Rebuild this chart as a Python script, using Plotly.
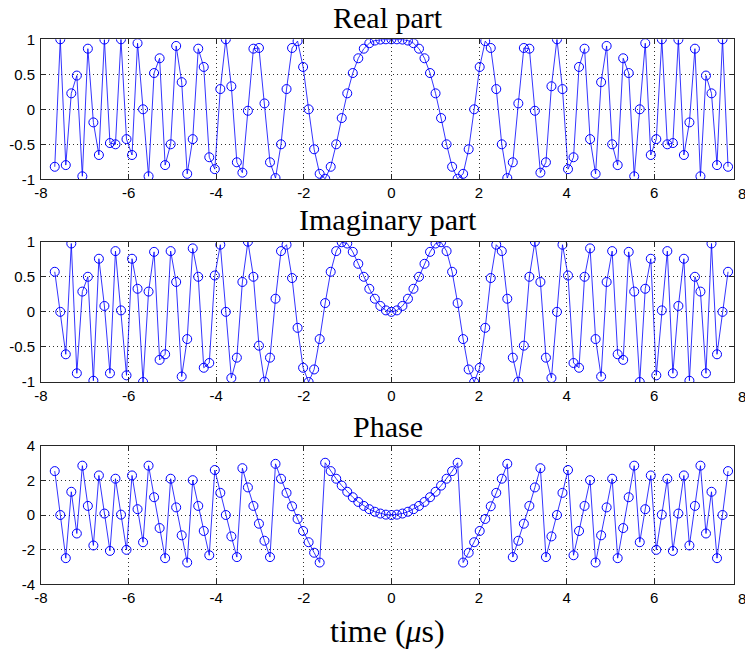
import plotly.graph_objects as go

# Sample times (microseconds)
time_us = [
    -7.686, -7.560, -7.434, -7.308, -7.182, -7.056, -6.930, -6.804, -6.678, -6.552,
    -6.426, -6.300, -6.174, -6.048, -5.922, -5.796, -5.670, -5.544, -5.418, -5.292,
    -5.166, -5.040, -4.914, -4.788, -4.662, -4.536, -4.410, -4.284, -4.158, -4.032,
    -3.906, -3.780, -3.654, -3.528, -3.402, -3.276, -3.150, -3.024, -2.898, -2.772,
    -2.646, -2.520, -2.394, -2.268, -2.142, -2.016, -1.890, -1.764, -1.638, -1.512,
    -1.386, -1.260, -1.134, -1.008, -0.882, -0.756, -0.630, -0.504, -0.378, -0.252,
    -0.126, 0.000, 0.126,
    0.252, 0.378, 0.504, 0.630, 0.756, 0.882, 1.008, 1.134, 1.260, 1.386,
    1.512, 1.638, 1.764, 1.890, 2.016, 2.142, 2.268, 2.394, 2.520, 2.646,
    2.772, 2.898, 3.024, 3.150, 3.276, 3.402, 3.528, 3.654, 3.780, 3.906,
    4.032, 4.158, 4.284, 4.410, 4.536, 4.662, 4.788, 4.914, 5.040, 5.166,
    5.292, 5.418, 5.544, 5.670, 5.796, 5.922, 6.048, 6.174, 6.300, 6.426,
    6.552, 6.678, 6.804, 6.930, 7.056, 7.182, 7.308, 7.434, 7.560, 7.686,
]

real_part = [
    -0.821, 1.000, -0.797, 0.228, 0.482, -0.957, 0.866, -0.187, -0.653, 0.996,
    -0.482, -0.500, 1.000, -0.426, -0.653, 0.944, 0.000, -0.957, 0.518, 0.729,
    -0.797, -0.500, 0.905, 0.388, -0.922, -0.426, 0.866, 0.605, -0.685, -0.855,
    0.289, 1.000, 0.329, -0.757, -0.905, -0.021, 0.866, 0.876, 0.084, -0.757,
    -0.982, -0.500, 0.289, 0.876, 0.974, 0.605, 0.000, -0.571, -0.922, -0.992,
    -0.821, -0.500, -0.125, 0.228, 0.518, 0.729, 0.866, 0.944, 0.982, 0.996,
    1.000, 1.000, 1.000,
    0.996, 0.982, 0.944, 0.866, 0.729, 0.518, 0.228, -0.125, -0.500, -0.821,
    -0.992, -0.922, -0.571, 0.000, 0.605, 0.974, 0.876, 0.289, -0.500, -0.982,
    -0.757, 0.084, 0.876, 0.866, -0.021, -0.905, -0.757, 0.329, 1.000, 0.289,
    -0.855, -0.685, 0.605, 0.866, -0.426, -0.922, 0.388, 0.905, -0.500, -0.797,
    0.729, 0.518, -0.957, 0.000, 0.944, -0.653, -0.426, 1.000, -0.500, -0.482,
    0.996, -0.653, -0.187, 0.866, -0.957, 0.482, 0.228, -0.797, 1.000, -0.821,
]

imag_part = [
    0.571, 0.000, -0.605, 0.974, -0.876, 0.289, 0.500, -0.982, 0.757, 0.084,
    -0.876, 0.866, 0.021, -0.905, 0.757, 0.329, -1.000, 0.289, 0.855, -0.685,
    -0.605, 0.866, 0.426, -0.922, -0.388, 0.905, 0.500, -0.797, -0.729, 0.518,
    0.957, 0.000, -0.944, -0.653, 0.426, 1.000, 0.500, -0.482, -0.996, -0.653,
    0.187, 0.866, 0.957, 0.482, -0.228, -0.797, -1.000, -0.821, -0.388, 0.125,
    0.571, 0.866, 0.992, 0.974, 0.855, 0.685, 0.500, 0.329, 0.187, 0.084,
    0.021, 0.000, 0.021,
    0.084, 0.187, 0.329, 0.500, 0.685, 0.855, 0.974, 0.992, 0.866, 0.571,
    0.125, -0.388, -0.821, -1.000, -0.797, -0.228, 0.482, 0.957, 0.866, 0.187,
    -0.653, -0.996, -0.482, 0.500, 1.000, 0.426, -0.653, -0.944, 0.000, 0.957,
    0.518, -0.729, -0.797, 0.500, 0.905, -0.388, -0.922, 0.426, 0.866, -0.605,
    -0.685, 0.855, 0.289, -1.000, 0.329, 0.757, -0.905, 0.021, 0.866, -0.876,
    0.084, 0.757, -0.982, 0.500, 0.289, -0.876, 0.974, -0.605, 0.000, 0.571,
]

phase = [
    2.534, 0.000, -2.492, 1.340, -1.068, 2.848, 0.524, -1.759, 2.283, 0.084,
    -2.073, 2.094, 0.021, -2.011, 2.283, 0.335, -1.571, 2.848, 1.026, -0.754,
    -2.492, 2.094, 0.440, -1.173, -2.744, 2.011, 0.524, -0.922, -2.325, 2.597,
    1.278, 0.000, -1.236, -2.429, 2.702, 1.592, 0.524, -0.503, -1.487, -2.429,
    2.953, 2.094, 1.278, 0.503, -0.230, -0.922, -1.571, -2.178, -2.744, 3.016,
    2.534, 2.094, 1.696, 1.340, 1.026, 0.754, 0.524, 0.335, 0.188, 0.084,
    0.021, 0.000, 0.021,
    0.084, 0.188, 0.335, 0.524, 0.754, 1.026, 1.340, 1.696, 2.094, 2.534,
    3.016, -2.744, -2.178, -1.571, -0.922, -0.230, 0.503, 1.278, 2.094, 2.953,
    -2.429, -1.487, -0.503, 0.524, 1.592, 2.702, -2.429, -1.236, 0.000, 1.278,
    2.597, -2.325, -0.922, 0.524, 2.011, -2.744, -1.173, 0.440, 2.094, -2.492,
    -0.754, 1.026, 2.848, -1.571, 0.335, 2.283, -2.011, 0.021, 2.094, -2.073,
    0.084, 2.283, -1.759, 0.524, 2.848, -1.068, 1.340, -2.492, 0.000, 2.534,
]

x_ticks = [-8, -6, -4, -2, 0, 2, 4, 6]
x_ticktext = ["-8", "-6", "-4", "-2", "0", "2", "4", "6"]
x_last_tick = 8
x_last_ticktext = "8"
y_ticks_unit = [-1, -0.5, 0, 0.5, 1]
y_ticktext_unit = ["-1", "-0.5", "0", "0.5", "1"]
y_ticks_phase = [-4, -2, 0, 2, 4]
y_ticktext_phase = ["-4", "-2", "0", "2", "4"]

titles = ["Real part", "Imaginary part", "Phase"]
x_label = "time (<i>μ</i>s)"

W, H = 745, 653
L_PX, R_PX = 41, 734           # left / right edge of axes boxes
X_MIN = -8
PX_PER_US = 43.8
X_MAX = X_MIN + (R_PX - L_PX) / PX_PER_US
BLUE = "#0000ff"
TICKFONT = dict(family="Liberation Sans, Arial, sans-serif", size=15, color="black")
SERIF = "Liberation Serif, Times New Roman, serif"

panels = [(39.3, 179.3), (241.7, 382.0), (445.7, 584.3)]
title_centers = [17.0, 219.0, 426.5]
series = [real_part, imag_part, phase]

fig = go.Figure()
for i, ys in enumerate(series):
    sfx = "" if i == 0 else str(i + 1)
    fig.add_trace(go.Scatter(
        x=time_us, y=ys, mode="lines+markers",
        xaxis="x" + sfx, yaxis="y" + sfx,
        line=dict(color=BLUE, width=0.8),
        marker=dict(symbol="circle-open", size=9, color=BLUE, line=dict(width=1)),
        showlegend=False, hoverinfo="skip",
    ))

layout = dict(
    template="none",
    width=W, height=H,
    margin=dict(l=L_PX, r=W - R_PX, t=0, b=0, pad=0, autoexpand=False),
    paper_bgcolor="white", plot_bgcolor="white",
    showlegend=False,
    annotations=[],
)

axis_common = dict(
    showline=True, linecolor="#262626", linewidth=1, mirror="ticks",
    ticks="inside", ticklen=5, tickcolor="#262626", tickwidth=1,
    showgrid=True, gridcolor="#303030", griddash="1px,3px", gridwidth=1,
    zeroline=False, tickfont=TICKFONT, fixedrange=True, automargin=False,
    ticklabeloverflow="allow",
)

x_paper_last = ((x_last_tick - X_MIN) * PX_PER_US) / (R_PX - L_PX)

for i, (top, bot) in enumerate(panels):
    sfx = "" if i == 0 else str(i + 1)
    dom = [1 - bot / H, 1 - top / H]
    layout["xaxis" + sfx] = dict(
        axis_common, domain=[0, 1], range=[X_MIN, X_MAX], anchor="y" + sfx,
        tickvals=x_ticks, ticktext=x_ticktext,
    )
    if i < 2:
        yt, ytt, yr = y_ticks_unit, y_ticktext_unit, [-1, 1]
    else:
        yt, ytt, yr = y_ticks_phase, y_ticktext_phase, [-4, 4]
    layout["yaxis" + sfx] = dict(
        axis_common, domain=dom, range=yr, anchor="x" + sfx,
        tickvals=yt, ticktext=ytt, ticklabelstandoff=2,
    )
    layout["annotations"].append(dict(
        text=titles[i], xref="paper", yref="paper", x=0.5,
        y=1 - title_centers[i] / H, xanchor="center", yanchor="middle",
        showarrow=False, borderpad=0,
        font=dict(family=SERIF, size=30, color="black"),
    ))
    # label of the x=8 tick, which sits just past the box edge in the reference
    layout["annotations"].append(dict(
        text=x_last_ticktext, xref="paper", yref="paper", x=x_paper_last,
        y=1 - (bot + 14) / H, xanchor="center", yanchor="middle",
        showarrow=False, borderpad=0, font=TICKFONT,
    ))

layout["annotations"].append(dict(
    text=x_label, xref="paper", yref="paper", x=0.5, y=1 - 631 / H,
    xanchor="center", yanchor="middle", showarrow=False, borderpad=0,
    font=dict(family=SERIF, size=32, color="black"),
))

fig.update_layout(layout)
fig.write_html("out.html")
